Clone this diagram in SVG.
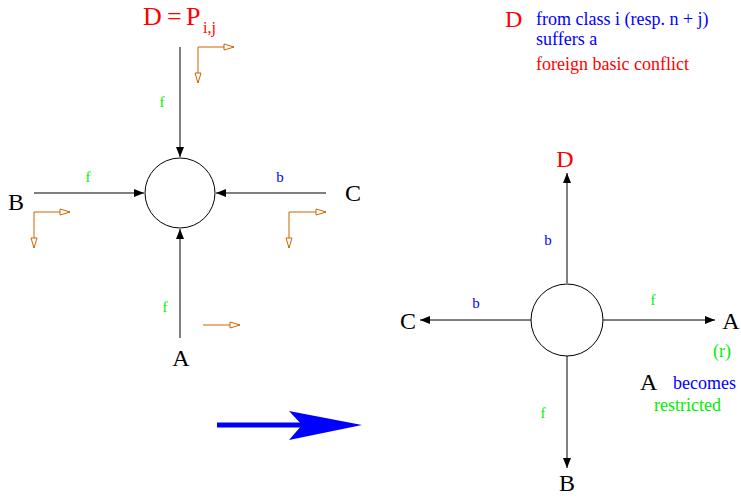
<svg xmlns="http://www.w3.org/2000/svg" width="741" height="499" viewBox="0 0 741 499">
<defs>
<style>
text{font-family:"Liberation Serif","Times New Roman",serif}
.big{font-size:24px;fill:#000}
.red{fill:#ff0000}
.blue{fill:#0000ff}
.green{fill:#00ee00}
.lbl{font-size:15px}
.note{font-size:18px}
.edge{stroke:#000;stroke-width:1;fill:none}
.or{stroke:#cc6600;stroke-width:1;fill:none}
.node{fill:#fff;stroke:#000;stroke-width:1}
</style>
<marker id="ah" markerWidth="10" markerHeight="8" refX="10" refY="4" orient="auto" markerUnits="userSpaceOnUse">
<path d="M0,0 L10,4 L0,8 z" fill="#000"/>
</marker>
<marker id="oh" markerWidth="12" markerHeight="8" refX="11" refY="4" orient="auto" markerUnits="userSpaceOnUse">
<path d="M1,1 L11,4 L1,7 z" fill="#fff" stroke="#cc6600" stroke-width="1"/>
</marker>
</defs>
<g id="connectors">
<line class="edge" x1="180" y1="47" x2="180" y2="157" marker-end="url(#ah)"/>
<line class="edge" x1="34" y1="193" x2="144" y2="193" marker-end="url(#ah)"/>
<line class="edge" x1="326" y1="193" x2="216" y2="193" marker-end="url(#ah)"/>
<line class="edge" x1="180" y1="338" x2="180" y2="229" marker-end="url(#ah)"/>
<line class="edge" x1="567" y1="283" x2="567" y2="173" marker-end="url(#ah)"/>
<line class="edge" x1="531" y1="320" x2="420" y2="320" marker-end="url(#ah)"/>
<line class="edge" x1="603" y1="320" x2="715" y2="320" marker-end="url(#ah)"/>
<line class="edge" x1="567" y1="356" x2="567" y2="468" marker-end="url(#ah)"/>
<text class="green lbl" x="162" y="107" text-anchor="middle">f</text>
<text class="green lbl" x="88" y="182" text-anchor="middle">f</text>
<text class="blue lbl" x="280" y="182" text-anchor="middle">b</text>
<text class="green lbl" x="165" y="312" text-anchor="middle">f</text>
<text class="blue lbl" x="548" y="245" text-anchor="middle">b</text>
<text class="blue lbl" x="476" y="308" text-anchor="middle">b</text>
<text class="green lbl" x="653" y="305" text-anchor="middle">f</text>
<text class="green lbl" x="543" y="418" text-anchor="middle">f</text>
</g>
<g id="orange-arrows">
<path class="or" d="M198,47 L234,47" marker-end="url(#oh)"/>
<line class="or" x1="198" y1="47" x2="198" y2="83" marker-end="url(#oh)"/>
<path class="or" d="M34,212 L70,212" marker-end="url(#oh)"/>
<line class="or" x1="34" y1="212" x2="34" y2="248" marker-end="url(#oh)"/>
<path class="or" d="M289,212 L326,212" marker-end="url(#oh)"/>
<line class="or" x1="289" y1="212" x2="289" y2="248" marker-end="url(#oh)"/>
<line class="or" x1="203" y1="325" x2="240" y2="325" marker-end="url(#oh)"/>
</g>
<g id="node-left">
<circle class="node" cx="180" cy="193" r="35"/>
</g>
<g id="node-right">
<circle class="node" cx="567" cy="320" r="36"/>
</g>
<g id="label-D-left">
<text class="red" font-size="26" y="25"><tspan x="143">D</tspan><tspan x="167">=</tspan><tspan x="186">P</tspan><tspan x="203" y="33" font-size="16">i,j</tspan></text>
</g>
<g id="label-B-left"><text class="big" x="16" y="210" text-anchor="middle">B</text></g>
<g id="label-C-left"><text class="big" x="353" y="201" text-anchor="middle">C</text></g>
<g id="label-A-left"><text class="big" x="181" y="366" text-anchor="middle">A</text></g>
<g id="label-D-right"><text class="big red" x="565" y="167" text-anchor="middle">D</text></g>
<g id="label-C-right"><text class="big" x="408" y="329" text-anchor="middle">C</text></g>
<g id="label-A-right"><text class="big" x="731" y="329" text-anchor="middle">A</text></g>
<g id="label-B-right"><text class="big" x="567" y="491" text-anchor="middle">B</text></g>
<g id="note-r"><text class="green note" x="722" y="357" text-anchor="middle">(r)</text></g>
<g id="note-restricted">
<text class="big" x="640" y="390">A</text>
<text class="blue note" x="673" y="389">becomes</text>
<text class="green note" x="654" y="411">restricted</text>
</g>
<g id="note-top">
<text class="big red" x="505" y="27">D</text>
<text class="blue note" x="536" y="25">from class i (resp. n + j)</text>
<text class="blue note" x="536" y="45">suffers a</text>
<text class="red note" x="536" y="70">foreign basic conflict</text>
</g>
<g id="big-arrow">
<line x1="217" y1="425" x2="302" y2="425" stroke="#0000ff" stroke-width="5"/>
<polygon points="289,411 362,425 289,440 302,425" fill="#0000ff"/>
</g>
</svg>
